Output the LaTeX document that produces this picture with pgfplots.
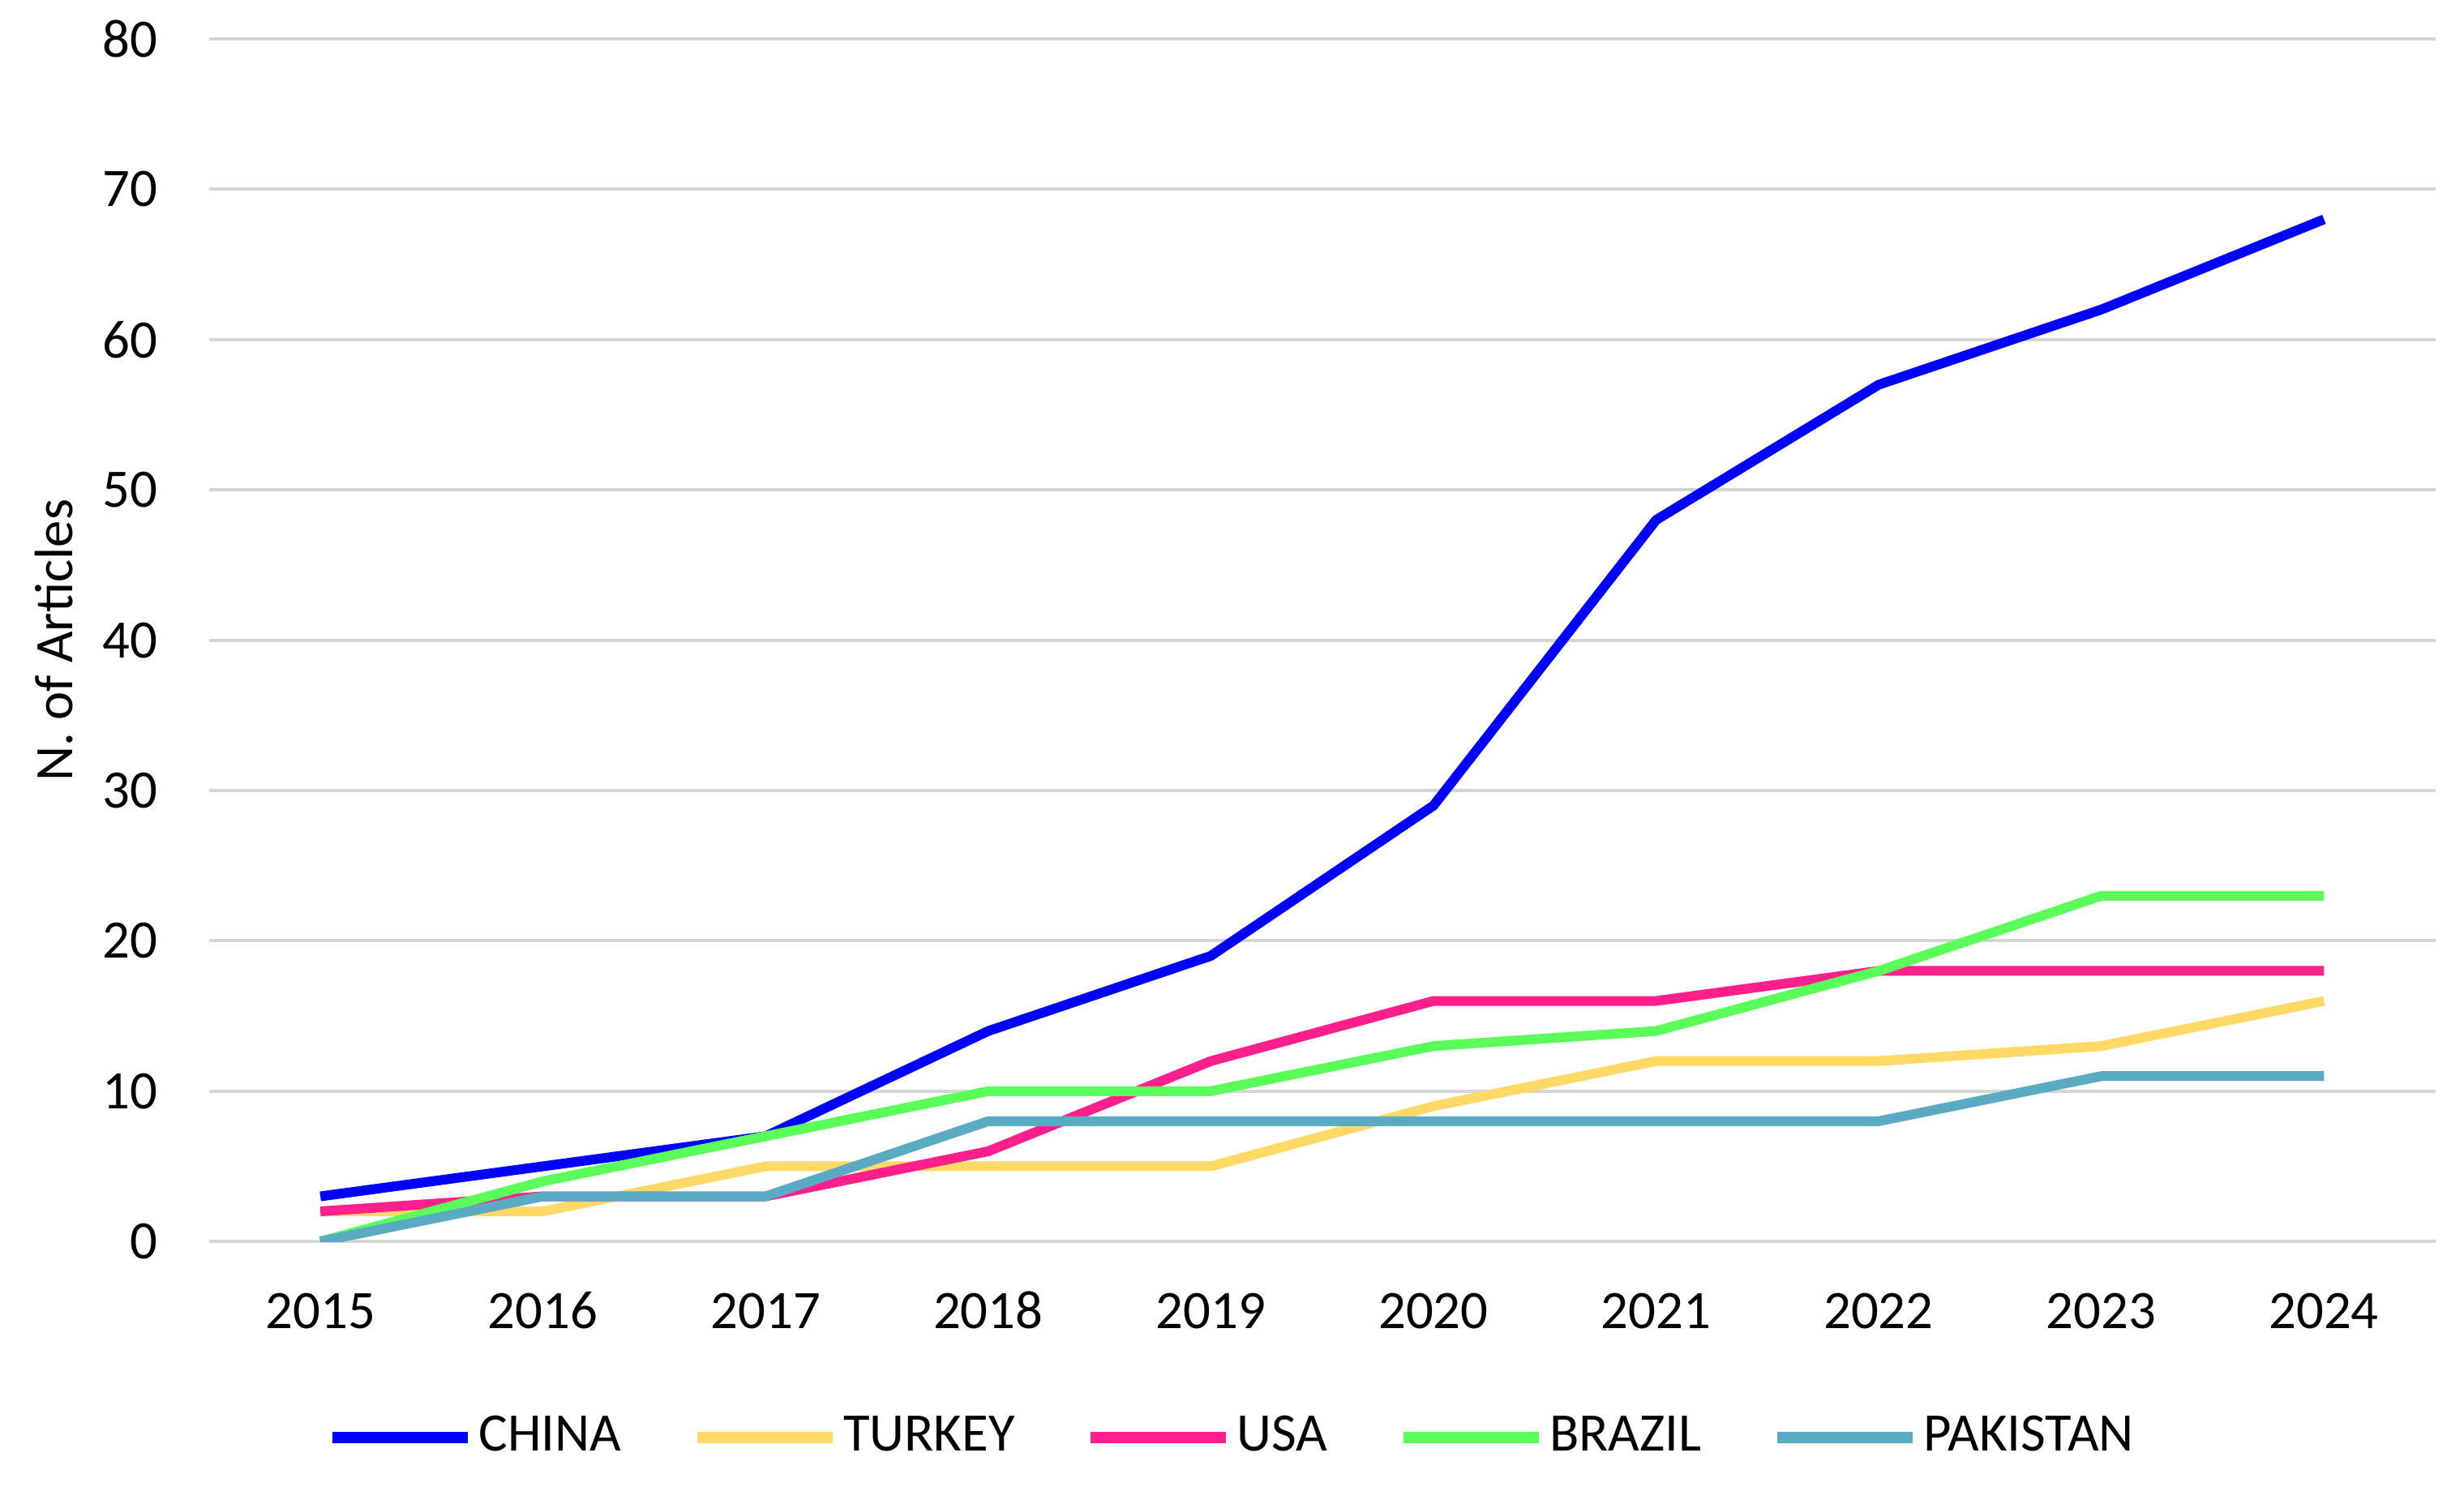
\documentclass[border=0pt]{standalone}
\usepackage{pgfplots}
\pgfplotsset{compat=1.18}
\usepackage{fontspec}
\setmainfont{Carlito}
\definecolor{cChina}{RGB}{0,0,255}
\definecolor{cTurkey}{RGB}{255,217,102}
\definecolor{cUsa}{RGB}{255,32,140}
\definecolor{cBrazil}{RGB}{90,255,90}
\definecolor{cPak}{RGB}{91,170,196}
\begin{document}
\begin{tikzpicture}
\begin{axis}[
  name=ax,
  scale only axis,
  width=411pt, height=222pt,
  xmin=2014.5, xmax=2024.5,
  ymin=0, ymax=80,
  xtick={2015,...,2024},
  xticklabels={2015,2016,2017,2018,2019,2020,2021,2022,2023,2024},
  ytick={0,10,...,80},
  ymajorgrids,
  grid style={draw=black!17, line width=0.6pt},
  axis line style={draw=none},
  major tick length=0pt,
  tick label style={font=\fontsize{10}{12}\selectfont, /pgf/number format/assume math mode=true},
  yticklabel style={xshift=-6pt},
  xticklabel style={yshift=-6pt, text height=6.5pt, text depth=0pt},
  ylabel={N. of Articles},
  ylabel style={at={(axis description cs:-0.0696,0.5)}, anchor=center, font=\fontsize{10}{12}\selectfont},
  legend columns=5,
  legend style={at={(axis description cs:0.46,-0.163)}, anchor=center, draw=none,
    font=\fontsize{10}{12}\selectfont, nodes={inner sep=1pt},
    /tikz/every odd column/.style={column sep=0pt},
    /tikz/every even column/.style={column sep=12pt}},
  legend image code/.code={\draw[#1, line width=2pt] (0pt,0pt) -- (25pt,0pt);},
  every axis plot/.append style={line width=1.8pt, line join=round, no markers},
]
\addplot[cChina] coordinates {(2015,3) (2016,5) (2017,7) (2018,14) (2019,19) (2020,29) (2021,48) (2022,57) (2023,62) (2024,68)};
\addlegendentry{CHINA}
\addplot[cTurkey] coordinates {(2015,2) (2016,2) (2017,5) (2018,5) (2019,5) (2020,9) (2021,12) (2022,12) (2023,13) (2024,16)};
\addlegendentry{TURKEY}
\addplot[cUsa] coordinates {(2015,2) (2016,3) (2017,3) (2018,6) (2019,12) (2020,16) (2021,16) (2022,18) (2023,18) (2024,18)};
\addlegendentry{USA}
\addplot[cBrazil] coordinates {(2015,0) (2016,4) (2017,7) (2018,10) (2019,10) (2020,13) (2021,14) (2022,18) (2023,23) (2024,23)};
\addlegendentry{BRAZIL}
\addplot[cPak] coordinates {(2015,0) (2016,3) (2017,3) (2018,8) (2019,8) (2020,8) (2021,8) (2022,8) (2023,11) (2024,11)};
\addlegendentry{PAKISTAN}
\end{axis}
\pgfresetboundingbox
\path ([xshift=-38.6pt,yshift=-45.2pt]ax.south west) rectangle ([xshift=5.3pt,yshift=7.2pt]ax.north east);
\end{tikzpicture}
\end{document}
